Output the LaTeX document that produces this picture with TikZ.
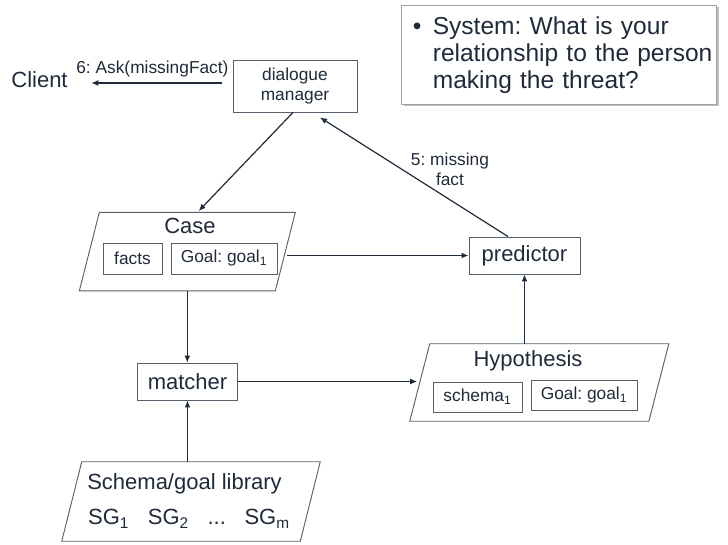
\documentclass[tikz,border=0pt]{standalone}
\usepackage{fontspec}
\setmainfont{Liberation Sans}
\usetikzlibrary{arrows.meta,shadows}
\frenchspacing
\definecolor{ink}{HTML}{1F2A3A}
\definecolor{rim}{HTML}{56606C}
\tikzset{
  txtbig/.style={font=\fontsize{16.5}{19}\selectfont, text=ink},
  txtsmall/.style={font=\fontsize{13}{15}\selectfont, text=ink},
  procbox/.style={draw=rim, line width=0.7pt, inner sep=0pt, txtbig},
  slotbox/.style={draw=rim, line width=0.7pt, inner sep=0pt, minimum height=23.25pt, txtsmall},
  storebox/.style={inner sep=0pt},
  arr/.style={draw=ink, line width=0.9pt, -{Latex[length=5.25pt,width=4.5pt]}},
}
% slanted outline round a store node
\def\storeshape(#1){\draw[draw=rim, line width=0.7pt] ([xshift=7.5pt]#1.north west) -- ([xshift=7.5pt]#1.north east) -- ([xshift=-7.5pt]#1.south east) -- ([xshift=-7.5pt]#1.south west) -- cycle;}

\begin{document}
\begin{tikzpicture}[x=0.75pt, y=-0.75pt]
			%%%%% START %%%%%
			\useasboundingbox (0,0) rectangle (728,545);
			
			% question shown to the client
			\node[draw=gray!75, line width=0.75pt, fill=white,
			  drop shadow={shadow xshift=1.5pt, shadow yshift=-1.5pt, fill=black, opacity=0.25},
			  anchor=north west, minimum width=236.5pt, minimum height=74.25pt,
			  inner xsep=0pt, text width=236.5pt, align=left,
			  font=\fontsize{18.4}{20.25}\selectfont, text=ink] (prompt) at (401,5)
			  {\hspace*{8.5pt}\makebox[15pt][l]{\textbullet}System: What is your\\
			   \hspace*{23.5pt}relationship to the person\\
			   \hspace*{23.5pt}making the threat?};
			
			\node[txtbig] (client) at (39.5,80) {Client};
			\node[procbox, txtsmall, minimum width=93pt, minimum height=39pt, align=center] (dialog) at (295,86) {dialogue\\manager};
			\node[procbox, minimum width=83.25pt, minimum height=27.75pt] (predictor) at (524.5,255.5) {predictor};
			\node[procbox, minimum width=75pt, minimum height=27.75pt] (matcher) at (187.5,381.5) {matcher};
			
			% case
			\node[storebox, minimum width=146.6pt, minimum height=58.5pt] (case) at (187.3,251.7) {};
			\storeshape(case)
			\node[txtbig] (casetitle) at (190,225.5) {Case};
			\node[slotbox, minimum width=44.25pt] (casefacts) at (132.5,258.5) {facts};
			\node[slotbox, minimum width=79.5pt] (casegoal) at (224,258.5) {Goal: goal\textsubscript{1}};
			
			% hypothesis
			\node[storebox, minimum width=178.9pt, minimum height=57.75pt] (hyp) at (539.3,382.5) {};
			\storeshape(hyp)
			\node[txtbig] (hyptitle) at (528,361) {Hypothesis};
			\node[slotbox, minimum width=66.75pt, minimum height=22.5pt] (hypschema) at (477.5,397) {schema\textsubscript{1}};
			\node[slotbox, minimum width=79.5pt, minimum height=22.5pt] (hypgoal) at (584,395) {Goal: goal\textsubscript{1}};
			
			% schema/goal library
			\node[storebox, minimum width=178.5pt, minimum height=59.25pt] (lib) at (191,501.5) {};
			\storeshape(lib)
			\node[txtbig] (libtitle) at (184.5,484) {Schema/goal library};
			\node[txtbig] (libitems) at (189,519) {SG\textsubscript{1}\hspace{14pt}SG\textsubscript{2}\hspace{14pt}...\hspace{14pt}SG\textsubscript{m}};
			
			% flows
			\draw[arr, shorten <=8.25pt, shorten >=14.25pt] ([yshift=2.25pt]dialog.west) -- ([yshift=2.25pt]dialog.west -| client.east)
			  node[midway, above=0.5pt, txtsmall] (asklabel) {6: Ask(missingFact)};
			\draw[arr, shorten >=1.5pt] ([xshift=-1.5pt]dialog.south) -- ([xshift=7.5pt]case.north);
			\draw[arr, shorten <=1.5pt] (case.east |- predictor.west) -- (predictor.west);
			\draw[arr] ([xshift=-12.4pt]predictor.north) -- ([xshift=18.75pt, yshift=-3.75pt]dialog.south)
			  node[midway, xshift=27pt, yshift=6pt, txtsmall, align=center] (misslabel) {5: missing\\fact};
			\draw[arr] (case.south) -- (case.south |- matcher.north);
			\draw[arr, shorten >=2pt] (matcher.east) -- (matcher.east -| hyp.west);
			\draw[arr] (predictor.south |- hyp.north) -- (predictor.south);
			\draw[arr] (matcher.south |- lib.north) -- (matcher.south);
			
			%%%%% END %%%%%
\end{tikzpicture}
\end{document}
